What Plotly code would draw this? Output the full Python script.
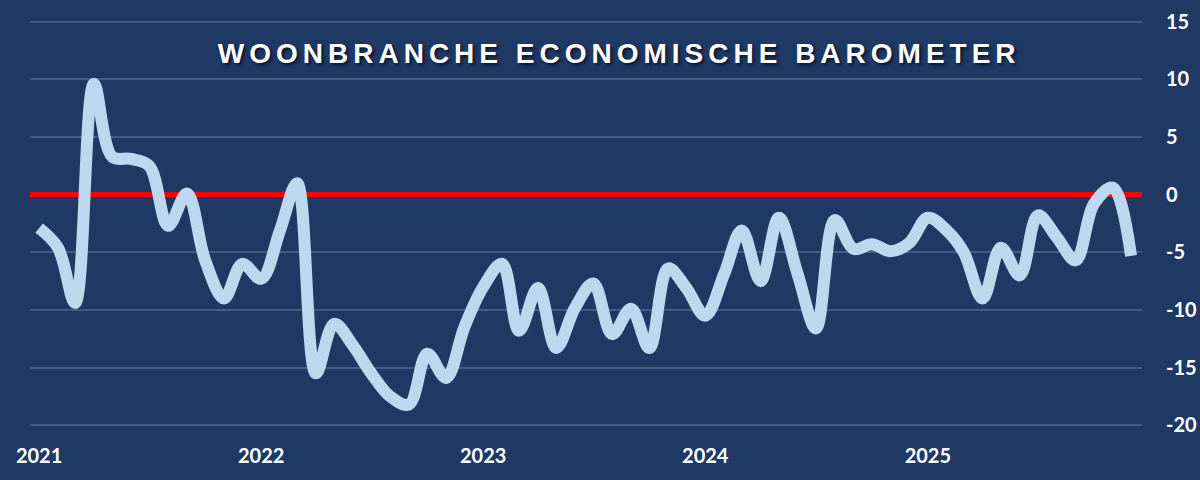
import pandas as pd
import plotly.graph_objects as go

# maandelijkse barometerstand, jan 2021 t/m dec 2025
barometer = [
    -2.9, -4.6, -9.4, 9.6, 3.3, 3.1, 2.5, -2.7, 0.1, -5.7, -9.0, -6.0,
    -7.3, -3.1, 1.0, -15.5, -11.2, -13.1, -15.5, -17.5, -18.2, -13.8, -15.9, -11.5,
    -8.0, -6.0, -11.8, -8.1, -13.3, -9.8, -7.7, -12.1, -9.9, -13.3, -6.4, -8.1,
    -10.5, -6.9, -3.1, -7.5, -2.0, -6.9, -11.6, -2.2, -4.7, -4.3, -4.9, -4.2,
    -2.0, -3.1, -5.0, -9.0, -4.6, -7.0, -1.8, -3.7, -5.7, -0.8, 0.6, -5.3,
]
months = pd.date_range("2021-01-01", periods=len(barometer), freq="MS")
y_ticks = [15, 10, 5, 0, -5, -10, -15, -20]
y_labels = ["15", "10", "5", "0", "-5", "-10", "-15", "-20"]

bg = "#1F3864"

fig = go.Figure()
fig.add_trace(go.Scatter(
    x=months,
    y=barometer,
    mode="lines",
    line=dict(color="#BDD7EE", width=12, shape="spline", smoothing=1),
    hoverinfo="skip",
))

fig.update_layout(
    width=1200,
    height=480,
    paper_bgcolor=bg,
    plot_bgcolor=bg,
    showlegend=False,
    margin=dict(l=30, r=58, t=16, b=49, autoexpand=False),
    title=dict(
        text='<span style="letter-spacing:5px">WOONBRANCHE ECONOMISCHE BAROMETER</span>',
        x=0.516,
        xanchor="center",
        y=0.89,
        yanchor="middle",
        font=dict(family="Liberation Sans, Arial", size=28, color="white",
                  weight="bold", shadow="2px 2px 3px #0b1630"),
    ),
)

fig.update_xaxes(
    range=["2020-12-17", "2025-12-19"],
    tick0="2021-01-01",
    dtick="M12",
    tickformat="%Y",
    showgrid=False,
    zeroline=False,
    showline=False,
    ticks="",
    automargin=False,
    ticklabelstandoff=11,
    tickfont=dict(family="Lato", size=20, color="white", weight="bold"),
)

fig.update_yaxes(
    side="right",
    range=[-20.5, 15.5],
    tickvals=y_ticks,
    ticktext=y_labels,
    showgrid=True,
    gridcolor="rgba(255,255,255,0.18)",
    gridwidth=1.5,
    zeroline=True,
    zerolinecolor="#FF0000",
    zerolinewidth=5,
    showline=False,
    ticks="",
    automargin=False,
    ticklabelstandoff=23,
    tickfont=dict(family="Lato", size=20, color="white", weight="bold"),
)

fig.write_html(
    "out.html",
    config={"displayModeBar": False},
    post_script="document.body.style.margin='0';document.body.style.background='" + bg + "';",
)
